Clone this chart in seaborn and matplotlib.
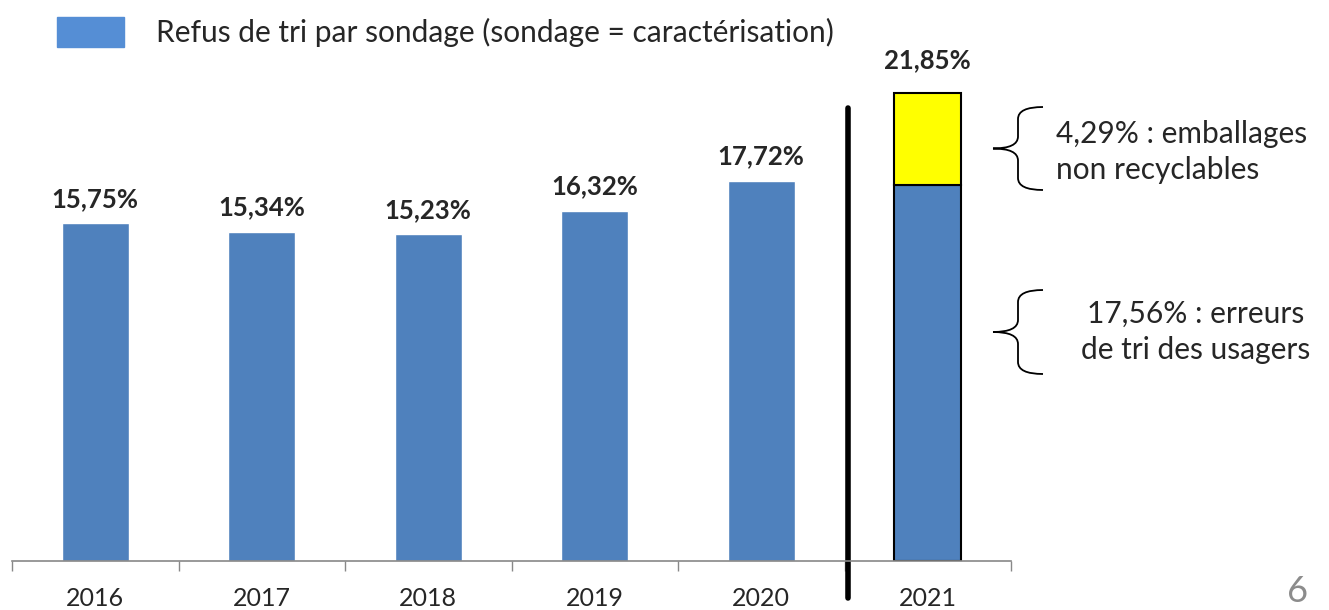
import numpy as np
import pandas as pd
import matplotlib
matplotlib.use("Agg")
import matplotlib.pyplot as plt
import seaborn as sns
from matplotlib.path import Path
from matplotlib.patches import PathPatch, Patch

# Data
years = ["2016", "2017", "2018", "2019", "2020", "2021"]
totals = [15.75, 15.34, 15.23, 16.32, 17.72, 21.85]
user_errors_2021 = 17.56
non_recyclable_2021 = 4.29
bar_labels = ["15,75%", "15,34%", "15,23%", "16,32%", "17,72%", "21,85%"]
legend_label = "Refus de tri par sondage (sondage = caractérisation)"
note_top = "4,29% : emballages\nnon recyclables"
note_bottom = "17,56% : erreurs\nde tri des usagers"

BLUE = "#4F81BD"
YELLOW = "#FFFF00"

sns.set_style("white")
plt.rcParams["font.family"] = ["Lato", "DejaVu Sans"]

W, H = 1329, 610
fig = plt.figure(figsize=(W / 100, H / 100), dpi=100)
# axes placed in pixels: x 12..1011, baseline at y=561
ax = fig.add_axes([12 / W, (H - 561) / H, (1011 - 12) / W, 521 / H])

# first five bars are the total, 2021 is the user-error part (yellow added on top)
df = pd.DataFrame({"year": years, "value": totals[:5] + [user_errors_2021]})
sns.barplot(data=df, x="year", y="value", order=years, color=BLUE,
            saturation=1, width=0.4, ax=ax)
bars = ax.patches
bars[5].set_edgecolor("black")
bars[5].set_linewidth(1.5)
ax.bar(5, non_recyclable_2021, bottom=user_errors_2021, width=0.4,
       color=YELLOW, edgecolor="black", linewidth=1.5)

ax.set_xlim(-0.5, 5.5)
ax.set_ylim(0, 24.3)

# value labels
for i, (v, lab) in enumerate(zip(totals, bar_labels)):
    off = 15 if i == 5 else 9
    ax.annotate(lab, (i, v), xytext=(0, off), textcoords="offset points",
                ha="center", va="bottom", fontsize=18.5, fontweight="bold")

# axes styling
for s in ["top", "right", "left"]:
    ax.spines[s].set_visible(False)
ax.spines["bottom"].set_color("#888888")
ax.spines["bottom"].set_linewidth(1.2)
ax.set_yticks([])
ax.set_xlabel("")
ax.set_ylabel("")
ax.set_xticks(range(6))
ax.set_xticklabels(years, fontsize=18)
ax.tick_params(axis="x", which="major", length=0, pad=19)
ax.set_xticks(np.arange(-0.5, 6, 1), minor=True)
ax.tick_params(axis="x", which="minor", bottom=True, length=7, width=1,
               color="#888888", direction="out")

# separator line between 2020 and 2021
ax.axvline(4.52, ymin=-0.071, ymax=0.869, color="black", linewidth=4,
           clip_on=False)

# legend
handle = Patch(facecolor="#558ED5", edgecolor="#558ED5")
fig.legend([handle], [legend_label], loc="center left",
           bbox_to_anchor=(57 / W, 1 - 32 / H), frameon=False, fontsize=21.5,
           handlelength=2.23, handleheight=1.15, handletextpad=1.1, borderpad=0,
           borderaxespad=0)


def brace(y_top, y_bot, x_tip=993, x_mid=1018, x_end=1043, r=12):
    ym = (y_top + y_bot) / 2
    pts = [(x_end, y_top), (x_mid, y_top), (x_mid, y_top + r),
           (x_mid, ym - r),
           (x_mid, ym), (x_tip, ym),
           (x_mid, ym), (x_mid, ym + r),
           (x_mid, y_bot - r),
           (x_mid, y_bot), (x_end, y_bot)]
    codes = [Path.MOVETO, Path.CURVE3, Path.CURVE3, Path.LINETO,
             Path.CURVE3, Path.CURVE3, Path.CURVE3, Path.CURVE3,
             Path.LINETO, Path.CURVE3, Path.CURVE3]
    pts = [(x / W, 1 - y / H) for x, y in pts]
    fig.add_artist(PathPatch(Path(pts, codes), facecolor="none",
                             edgecolor="black", linewidth=1.3,
                             transform=fig.transFigure))


brace(107, 190)
brace(290, 374)
fig.text(1056 / W, 1 - 152 / H, note_top, ha="left", va="center",
         fontsize=21.5, linespacing=1.35)
fig.text(1196 / W, 1 - 332 / H, note_bottom, ha="center", va="center",
         fontsize=21.5, linespacing=1.35)

# slide number
fig.text(1298 / W, 1 - 591 / H, "6", ha="center", va="center",
         fontsize=26, color="#8C8C8C")

fig.savefig("out.png", dpi=100)
